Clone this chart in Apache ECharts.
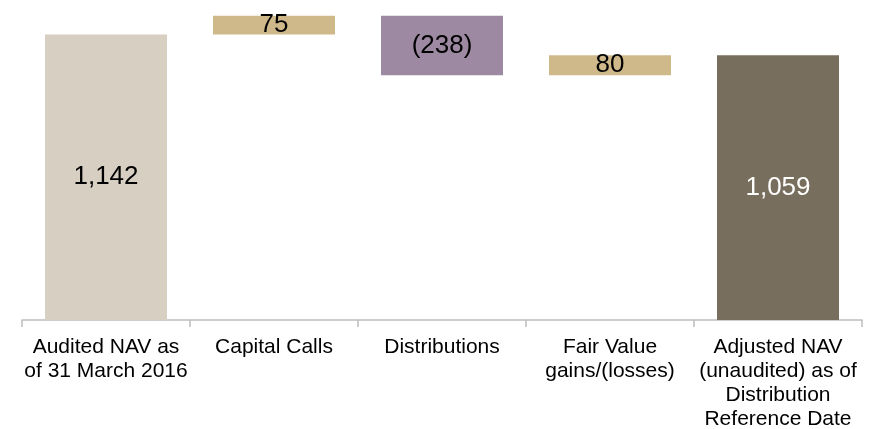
<!DOCTYPE html>
<html>
<head>
<meta charset="utf-8">
<script src="https://cdn.jsdelivr.net/npm/echarts@6/dist/echarts.min.js"></script>
<style>
  html, body { margin: 0; padding: 0; background: #fff; }
  #chart { width: 872px; height: 429px; }
</style>
</head>
<body>
<div id="chart"></div>
<script>
// NAV bridge data
const categories = [
    'Audited NAV as\nof 31 March 2016',
    'Capital Calls',
    'Distributions',
    'Fair Value\ngains/(losses)',
    'Adjusted NAV\n(unaudited) as of\nDistribution\nReference Date'
];
const values = [1142, 75, -238, 80, 1059];
const isTotal = [true, false, false, false, true];
const barColors = ['#d7cfc2', '#cfb98a', '#9e89a3', '#cfb98a', '#776e5d'];
const labelColors = ['#000', '#000', '#000', '#000', '#fff'];

function fmt(v) {
    const s = Math.abs(v).toLocaleString('en-US');
    return v < 0 ? '(' + s + ')' : s;
}

// Build invisible base + visible bar for waterfall
const baseData = [];
const barData = [];
let running = 0;
values.forEach((v, i) => {
    if (isTotal[i]) {
        baseData.push(0);
        barData.push({value: v, raw: v});
        running = v;
    } else if (v >= 0) {
        baseData.push(running);
        barData.push({value: v, raw: v});
        running += v;
    } else {
        baseData.push(running + v);
        barData.push({value: -v, raw: v});
        running += v;
    }
});
barData.forEach((d, i) => {
    d.itemStyle = {color: barColors[i]};
    d.label = {color: labelColors[i]};
});

const option = {
    animation: false,
    backgroundColor: '#fff',
    grid: {left: 22, right: 10, top: 0, bottom: 109, outerBoundsMode: 'none'},
    xAxis: {
        type: 'category',
        data: categories,
        axisLine: {lineStyle: {color: '#bdbdbd', width: 1.5}},
        axisTick: {show: true, length: 7, lineStyle: {color: '#bdbdbd', width: 1.5}},
        axisLabel: {
            interval: 0,
            margin: 15,
            color: '#000',
            fontFamily: 'Liberation Sans, Arial, sans-serif',
            fontSize: 21,
            lineHeight: 24,
            align: 'center'
        }
    },
    yAxis: {type: 'value', min: 0, max: 1280, show: false},
    series: [
        {
            type: 'bar',
            stack: 'wf',
            data: baseData,
            barWidth: 122,
            itemStyle: {color: 'transparent'},
            silent: true
        },
        {
            type: 'bar',
            stack: 'wf',
            data: barData,
            barWidth: 122,
            label: {
                show: true,
                position: 'inside',
                fontFamily: 'Liberation Sans, Arial, sans-serif',
                fontSize: 26,
                formatter: (p) => fmt(p.data.raw)
            }
        }
    ]
};

const chart = echarts.init(document.getElementById('chart'));
chart.setOption(option);
</script>
</body>
</html>
